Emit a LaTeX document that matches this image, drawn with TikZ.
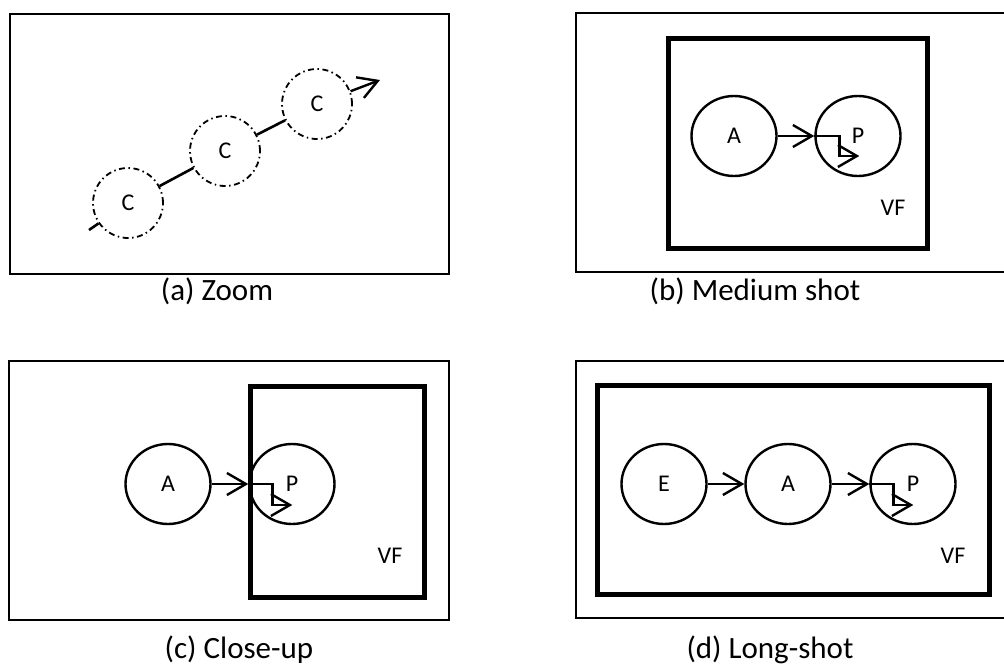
\documentclass[tikz,border=0pt]{standalone}
\usepackage{fontspec}
\setmainfont{Carlito}
\usetikzlibrary{arrows.meta,shapes.geometric}
\tikzset{
    frame/.style={draw, line width=2.2pt},
    finder/.style={draw, line width=5pt},
    obj/.style={draw, ellipse, line width=2.4pt, minimum width=85pt, minimum height=80pt,
        inner sep=0pt, font=\fontsize{24}{28}\selectfont},
    cam/.style={draw, circle, line width=1.8pt, dash pattern=on 6pt off 3.5pt on 1.5pt off 3.5pt,
        minimum size=70pt, inner sep=0pt, font=\fontsize{24}{28}\selectfont},
    link/.style={line width=2.6pt},
    flow/.style={line width=2.4pt, -{Straight Barb[length=19pt,width=22pt]}},
    caption/.style={anchor=base, font=\fontsize{31}{37}\selectfont},
    tag/.style={font=\fontsize{24}{28}\selectfont}
}
\begin{document}
\begin{tikzpicture}[x=1pt,y=-1pt]
    \clip (0,0) rectangle (1004,664);
    % (a) zoom
    \draw[frame] (10,14) rectangle (449,274);
    \node[cam] (c1) at (128,203) {C};
    \node[cam] (c2) at (225,151) {C};
    \node[cam] (c3) at (317,104) {C};
    \coordinate (za) at (89,230);
    \coordinate (zb) at (380,80);
    \draw[link] (za) -- (c1);
    \draw[link] (c1) -- (c2);
    \draw[link] (c2) -- (c3);
    \draw[flow] (c3) -- (zb);
    \node[caption] (capa) at (217,300) {(a) Zoom};
    % (b) medium shot
    \begin{scope}
      \draw[frame] (576,13) rectangle (1012,272);
      \draw[finder] (668,38) rectangle (927,248);
      \node[obj] (ab) at (734,136) {A};
      \node[obj] (pb) at (858,136) {P};
      \draw[flow] (ab) -- (pb);
      \draw[flow] (pb.west) -- ++(25,0) -- ++(0,20) -- ++(20,0);
      \node[tag] (vfb) at (893,208) {VF};
      \node[caption] (capb) at (755,300) {(b) Medium shot};
    \end{scope}
    % (c) close-up
    \begin{scope}
      \draw[frame] (9,361) rectangle (449,620);
      \draw[finder] (250,386) rectangle (424,597);
      \node[obj] (ac) at (168,484) {A};
      \node[obj] (pc) at (292,484) {P};
      \draw[flow] (ac) -- (pc);
      \draw[flow] (pc.west) -- ++(24,0) -- ++(0,21) -- ++(20,0);
      \node[tag] (vfc) at (390,556) {VF};
      \node[caption] (capc) at (239,658) {(c) Close-up};
    \end{scope}
    % (d) long-shot
    \begin{scope}
      \draw[frame] (576,361) rectangle (1012,618);
      \draw[finder] (597,385) rectangle (989,594);
      \node[obj] (ed) at (664,484) {E};
      \node[obj] (ad) at (788,484) {A};
      \node[obj] (pd) at (913,484) {P};
      \draw[flow] (ed) -- (ad);
      \draw[flow] (ad) -- (pd);
      \draw[flow] (pd.west) -- ++(24,0) -- ++(0,21) -- ++(20,0);
      \node[tag] (vfd) at (953,556) {VF};
      \node[caption] (capd) at (770,658) {(d) Long-shot};
    \end{scope}
\end{tikzpicture}
\end{document}
